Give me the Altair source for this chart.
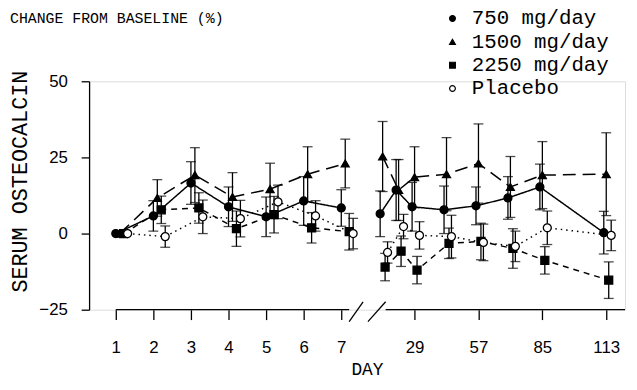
import altair as alt
import pandas as pd

# ---------------- data ----------------
days = [1, 2, 3, 4, 5, 6, 7, 15, 22, 29, 43, 57, 71, 85, 113]
series_names = ["750 mg/day", "1500 mg/day", "2250 mg/day", "Placebo"]

mean_750 = [0, 5.8, 16.6, 8.8, 5.5, 10.7, 8.4, 6.5, 14.3, 8.8, 7.8, 9.1, 11.7, 15.3, 0.3]
sem_750 = [0, 5.0, 7.0, 6.5, 6.5, 8.0, 6.0, 7.5, 10.0, 8.0, 7.8, 6.2, 7.0, 7.5, 7.0]

mean_1500 = [0, 11.7, 19.2, 12.0, 14.6, 19.5, 23.0, 25.3, 14.3, 18.5, 19.5, 23.0, 15.3, 19.2, 19.5]
sem_1500 = [0, 6.0, 9.0, 8.0, 8.5, 9.0, 8.0, 11.5, 10.0, 10.0, 12.0, 13.0, 10.0, 11.0, 13.6]

mean_2250 = [0, 7.8, 8.4, 1.6, 6.2, 1.9, 0.6, -11.0, -5.8, -12.0, -3.2, -2.6, -4.9, -8.8, -15.3]
sem_2250 = [0, 4.5, 5.0, 5.8, 6.0, 5.0, 6.0, 4.5, 5.0, 4.5, 5.0, 6.0, 6.5, 4.5, 6.0]

mean_placebo = [0, -1.0, 5.5, 4.9, 10.4, 5.8, 0.0, -6.2, 2.3, -0.6, -1.0, -2.9, -4.2, 1.9, -0.6]
sem_placebo = [0, 3.5, 5.5, 6.0, 5.5, 5.0, 5.0, 3.5, 4.0, 4.5, 7.0, 6.0, 5.0, 5.5, 5.0]

tick_days = [1, 2, 3, 4, 5, 6, 7, 29, 57, 85, 113]

# ---------------- layout helpers (broken day axis) ----------------
UNIT_PX = 38.0            # pixels per axis unit
RIGHT_29 = 7.95           # axis unit of day 29
RIGHT_STEP = 1.70         # axis units per 28 days after the break
dodge_left = {"750 mg/day": 0, "1500 mg/day": 4, "2250 mg/day": 8, "Placebo": 12}
dodge_right = {"750 mg/day": -2.5, "1500 mg/day": 0, "2250 mg/day": 2.5, "Placebo": 5}
dash_styles = {"750 mg/day": [1, 0], "1500 mg/day": [13, 7], "2250 mg/day": [6, 5],
               "Placebo": [1.5, 4]}


def day_pos(d):
    if d <= 7:
        return d - 1.0
    return RIGHT_29 + (d - 29) / 28.0 * RIGHT_STEP


rows = []
for name, means, sems in zip(series_names,
                             [mean_750, mean_1500, mean_2250, mean_placebo],
                             [sem_750, sem_1500, sem_2250, sem_placebo]):
    for d, m, s in zip(days, means, sems):
        off = dodge_left[name] if d <= 7 else dodge_right[name]
        rows.append({
            "series": name, "day": d, "seg": "a" if d <= 7 else "b",
            "pos": day_pos(d) + off / UNIT_PX,
            "mean": m, "lo": m - s, "hi": m + s, "sem": s,
        })
df = pd.DataFrame(rows)

tick_pos = [day_pos(d) for d in tick_days]

XDOM = [-0.71, 13.55]
W = int(round((XDOM[1] - XDOM[0]) * UNIT_PX))
H = 231

MONO = "Liberation Mono"
SANS = "Liberation Sans"

label_expr = ("datum.value < 7 ? format(datum.value + 1, 'd') : "
              f"format(round(29 + (datum.value - {RIGHT_29}) / {RIGHT_STEP} * 28), 'd')")

x_axis = alt.Axis(values=tick_pos, labelExpr=label_expr, domain=False, grid=False,
                  tickSize=10, tickWidth=1.3, tickColor="black",
                  labelFont=SANS, labelFontSize=17, labelColor="black", labelPadding=20,
                  title="DAY", titleFont=MONO, titleFontSize=18, titleFontWeight="normal",
                  titleColor="black", titleX=281, titleY=61, titleAlign="center",
                  titleBaseline="middle")
y_axis = alt.Axis(values=[-25, 0, 25, 50], grid=False, domain=True, domainColor="black",
                  domainWidth=1.3, tickSize=8, tickWidth=1.3, tickColor="black",
                  labelFont=SANS, labelFontSize=17, labelColor="black", labelPadding=14,
                  title="SERUM OSTEOCALCIN", titleFont=MONO, titleFontSize=22,
                  titleFontWeight="normal", titleColor="black", titleAngle=-90,
                  titleX=-70, titleY=101, titleAlign="center", titleBaseline="middle")

xs = alt.Scale(domain=XDOM, nice=False, zero=False)
ys = alt.Scale(domain=[-25, 50], nice=False, zero=False)

base = alt.Chart(df)

# one line layer per series so that each has its own dash pattern
line_layers = []
for name in series_names:
    line_layers.append(
        base.transform_filter(alt.datum.series == name)
        .mark_line(color="black", strokeWidth=1.5, strokeDash=dash_styles[name])
        .encode(
            x=alt.X("pos:Q", scale=xs, axis=x_axis),
            y=alt.Y("mean:Q", scale=ys, axis=y_axis),
            detail="seg:N",
            order="pos:Q",
        )
    )

errs = base.transform_filter("datum.sem > 0").mark_errorbar(
    ticks=True, size=10, thickness=1.3, color="black"
).encode(
    x=alt.X("pos:Q", scale=xs, axis=x_axis),
    y=alt.Y("lo:Q", scale=ys, axis=y_axis),
    y2="hi:Q",
)

legend = alt.Legend(orient="none", legendX=357, legendY=-74,
                    labelFont=MONO, labelFontSize=21, labelColor="black",
                    symbolSize=34, symbolStrokeWidth=1.2, rowPadding=1.6, labelOffset=9)

points = base.mark_point(filled=True, strokeWidth=1.3, opacity=1, size=65).encode(
    x=alt.X("pos:Q", scale=xs, axis=x_axis),
    y=alt.Y("mean:Q", scale=ys, axis=y_axis),
    shape=alt.Shape("series:N", title="", scale=alt.Scale(
        domain=series_names, range=["circle", "triangle-up", "square", "circle"]),
        legend=legend),
    fill=alt.Fill("series:N", title="", scale=alt.Scale(
        domain=series_names, range=["black", "black", "black", "white"]), legend=legend),
    stroke=alt.Stroke("series:N", title="", scale=alt.Scale(
        domain=series_names, range=["black", "black", "black", "black"]), legend=legend),
)

# x axis baseline with break marks (axis decoration in axis units)
axis_seg = pd.DataFrame({"x1": [0.0, 7.18], "x2": [6.21, XDOM[1]], "y1": [-25, -25], "y2": [-25, -25]})
slashes = pd.DataFrame({"x1": [6.21, 6.71], "x2": [6.58, 7.18], "y1": [-28.9, -28.9], "y2": [-22.4, -22.4]})
deco = pd.concat([axis_seg, slashes], ignore_index=True)
axis_rules = alt.Chart(deco).mark_rule(color="black", strokeWidth=1.3).encode(
    x=alt.X("x1:Q", scale=xs, axis=x_axis), x2="x2:Q",
    y=alt.Y("y1:Q", scale=ys, axis=y_axis), y2="y2:Q",
)

chart = alt.layer(axis_rules, *line_layers, errs, points).properties(
    width=W, height=H,
    title=alt.Title("CHANGE FROM BASELINE (%)", anchor="start", frame="group", dx=-80,
                    offset=0, dy=18, font=MONO, fontSize=15, fontWeight="normal",
                    color="black"),
    autosize=alt.AutoSizeParams(type="none"),
    padding={"left": 82, "top": 72, "right": 4, "bottom": 71},
).configure_view(stroke=None).configure(background="white")

chart.save("out.html", embed_options={"renderer": "svg", "actions": False})
